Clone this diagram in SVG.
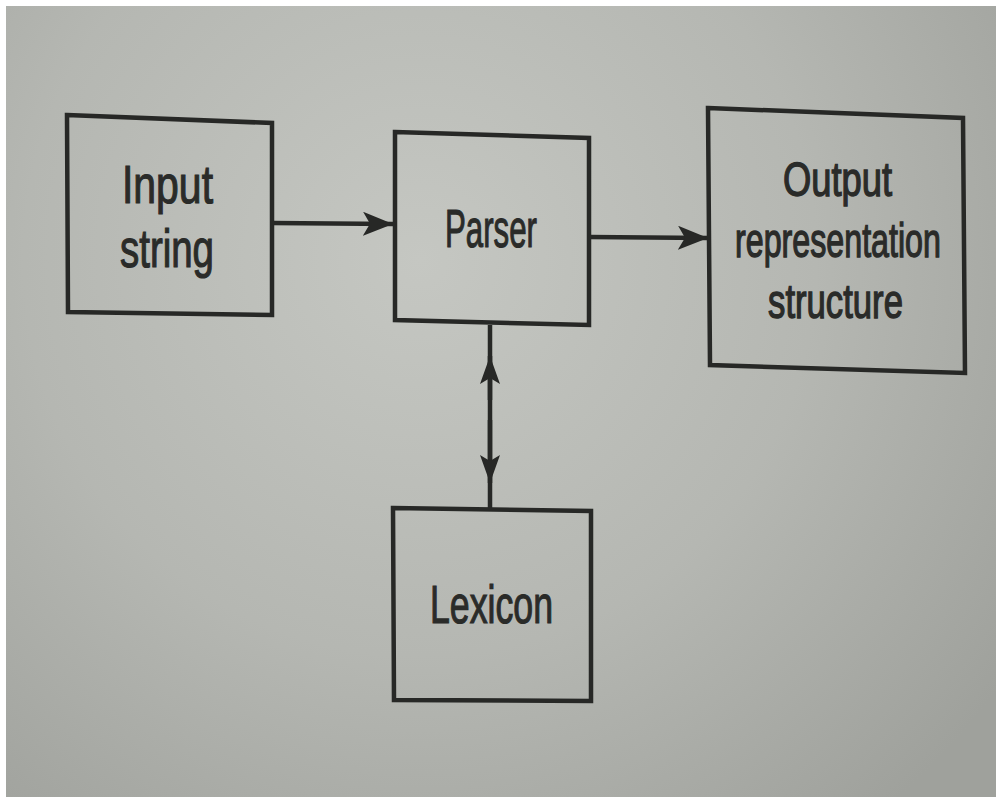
<svg xmlns="http://www.w3.org/2000/svg" width="997" height="798" viewBox="0 0 997 798">
<defs>
<radialGradient id="bg" cx="420" cy="260" r="720" gradientUnits="userSpaceOnUse">
<stop offset="0" stop-color="#c5c7c2"/>
<stop offset="0.55" stop-color="#b5b7b2"/>
<stop offset="1" stop-color="#9fa19c"/>
</radialGradient>
<marker id="ah" markerUnits="userSpaceOnUse" markerWidth="32" markerHeight="26" refX="30" refY="12" orient="auto">
<path d="M0,0 L30,12 L0,24 L7,12 z" fill="#272826"/>
</marker>
<marker id="ahs" markerUnits="userSpaceOnUse" markerWidth="30" markerHeight="22" refX="28" refY="10" orient="auto">
<path d="M0,0 L28,10 L0,20 L6,10 z" fill="#272826"/>
</marker>
</defs>
<style>
.box{fill:none;stroke:#272826;stroke-width:4.5;stroke-linejoin:miter}
.lbl{font-family:"Liberation Sans","DejaVu Sans",sans-serif;font-size:54px;fill:#2a2b29;stroke:#2a2b29;stroke-width:1.2;text-anchor:start}
.olbl{font-family:"Liberation Sans","DejaVu Sans",sans-serif;font-size:48px;fill:#2a2b29;stroke:#2a2b29;stroke-width:1.4;text-anchor:middle}
.conn{stroke:#272826;stroke-width:4.5;fill:none}
</style>
<rect x="0" y="0" width="997" height="798" fill="#ffffff"/>
<rect x="6" y="6" width="990" height="791" fill="url(#bg)"/>

<g id="input-string">
<polygon class="box" points="67,115 272,123 272,315 68,312"/>
<text class="lbl" x="122" y="203" textLength="91" lengthAdjust="spacingAndGlyphs">Input</text>
<text class="lbl" x="120" y="267" textLength="94" lengthAdjust="spacingAndGlyphs">string</text>
</g>

<g id="parser">
<polygon class="box" points="395,132 589,138 589,325 395,320"/>
<text class="lbl" x="445" y="247" textLength="92" lengthAdjust="spacingAndGlyphs">Parser</text>
</g>

<g id="output">
<polygon class="box" points="708,108 963,118 965,373 710,365"/>
<text class="olbl" transform="translate(837.5,196) scale(0.757,1)">Output</text>
<text class="olbl" transform="translate(838,257) scale(0.671,1)">representation</text>
<text class="olbl" transform="translate(835.5,318) scale(0.722,1)">structure</text>
</g>

<g id="lexicon">
<polygon class="box" points="393,508 591,511 591,701 394,700"/>
<text class="lbl" x="430" y="623" textLength="123" lengthAdjust="spacingAndGlyphs">Lexicon</text>
</g>

<g id="connectors">
<path class="conn" d="M272,223 L393,224" marker-end="url(#ah)"/>
<path class="conn" d="M589,237 L708,238" marker-end="url(#ah)"/>
<path class="conn" d="M490,325 L490,508"/>
<path class="conn" d="M490,400 L490,356" marker-end="url(#ahs)"/>
<path class="conn" d="M490,420 L490,483" marker-end="url(#ahs)"/>
</g>
</svg>
